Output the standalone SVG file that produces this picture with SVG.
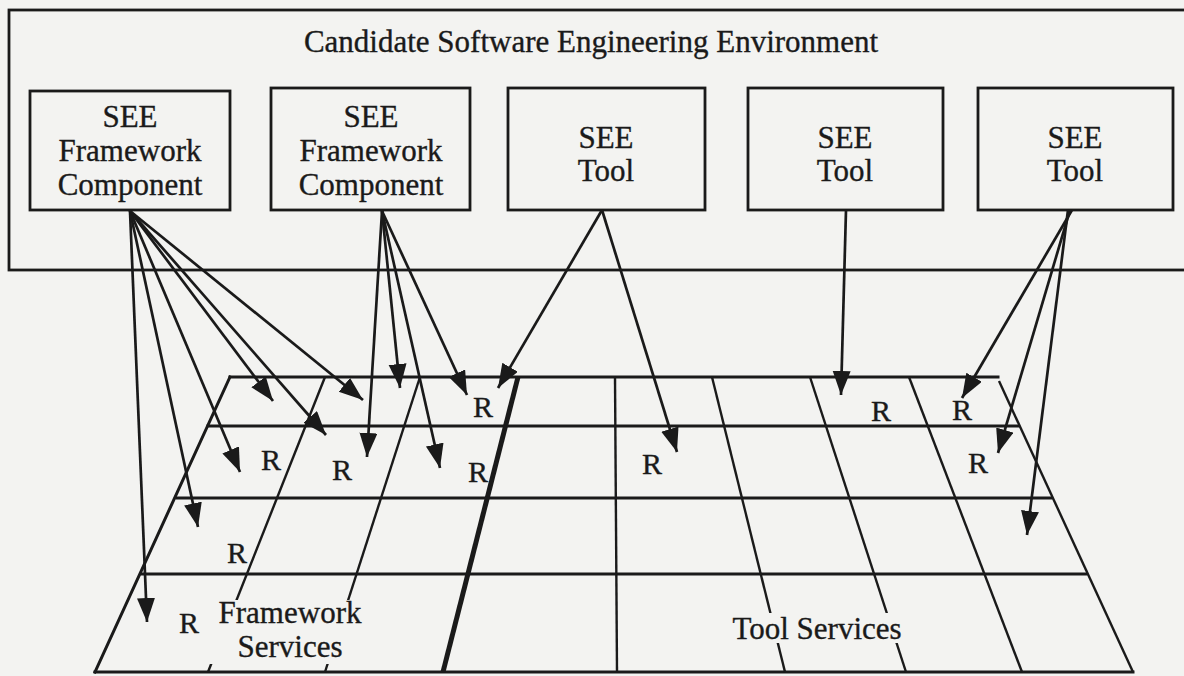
<svg xmlns="http://www.w3.org/2000/svg" width="1184" height="676" viewBox="0 0 1184 676">
<defs>
<style>
.bg{fill:#f3f3f1}
.box{fill:#f3f3f1;stroke:#1a1a1a;stroke-width:2.8}
.t{font-family:"Liberation Serif","Times New Roman",serif;font-size:31px;fill:#1a1a1a;stroke:#1a1a1a;stroke-width:0.35;text-anchor:middle}
.r{font-family:"Liberation Serif","Times New Roman",serif;font-size:30px;fill:#1a1a1a;stroke:#1a1a1a;stroke-width:0.35;text-anchor:middle}
.g{stroke:#1a1a1a;stroke-width:3;fill:none;stroke-linecap:square}
.thin{stroke:#1a1a1a;stroke-width:2.4;fill:none}
.thick{stroke:#1a1a1a;stroke-width:5;fill:none}
.c{stroke:#1a1a1a;stroke-width:2.7;fill:none;marker-end:url(#ah)}
</style>
<marker id="ah" markerUnits="userSpaceOnUse" markerWidth="26" markerHeight="20" refX="24" refY="9" orient="auto">
<path d="M0,0 L24,9 L0,18 z" fill="#1a1a1a"/>
</marker>
</defs>
<rect class="bg" x="0" y="0" width="1184" height="676"/>

<g id="environment">
<rect class="box" x="9" y="10" width="1190" height="260"/>
<text class="t" x="591" y="52">Candidate Software Engineering Environment</text>
</g>

<g id="fw-component-1">
<rect class="box" x="30" y="91" width="200" height="119"/>
<text class="t" x="130" y="127">SEE</text>
<text class="t" x="130" y="161">Framework</text>
<text class="t" x="130" y="195">Component</text>
</g>
<g id="fw-component-2">
<rect class="box" x="271" y="88" width="199" height="122"/>
<text class="t" x="371" y="127">SEE</text>
<text class="t" x="371" y="161">Framework</text>
<text class="t" x="371" y="195">Component</text>
</g>
<g id="tool-1">
<rect class="box" x="508" y="88" width="197" height="122"/>
<text class="t" x="606" y="148">SEE</text>
<text class="t" x="606" y="181">Tool</text>
</g>
<g id="tool-2">
<rect class="box" x="748" y="88" width="195" height="122"/>
<text class="t" x="845" y="148">SEE</text>
<text class="t" x="845" y="181">Tool</text>
</g>
<g id="tool-3">
<rect class="box" x="978" y="88" width="195" height="122"/>
<text class="t" x="1075" y="148">SEE</text>
<text class="t" x="1075" y="181">Tool</text>
</g>

<g id="services-grid">
<line class="g" x1="230" y1="377" x2="998" y2="377"/>
<line class="g" x1="208" y1="426" x2="1018" y2="426"/>
<line class="g" x1="177" y1="498" x2="1051" y2="498"/>
<line class="g" x1="142" y1="574" x2="1086" y2="574"/>
<line class="g" x1="95" y1="672" x2="1133" y2="672"/>
<line class="g" x1="230" y1="377" x2="95" y2="672"/>
<line class="thin" x1="999" y1="381" x2="1133" y2="672"/>
<line class="thin" x1="325" y1="377" x2="208" y2="672"/>
<line class="thin" x1="420" y1="377" x2="325" y2="672"/>
<line class="thick" x1="518" y1="377" x2="443" y2="672"/>
<line class="thin" x1="615" y1="377" x2="617" y2="672"/>
<line class="thin" x1="712" y1="377" x2="785" y2="672"/>
<line class="thin" x1="810" y1="377" x2="906" y2="672"/>
<line class="thin" x1="909" y1="377" x2="1022" y2="672"/>
</g>

<g id="framework-services">
<rect class="bg" x="206" y="600" width="160" height="64"/>
<text class="t" x="290" y="623">Framework</text>
<text class="t" x="290" y="657">Services</text>
</g>
<g id="tool-services">
<rect class="bg" x="728" y="613" width="180" height="30"/>
<text class="t" x="817" y="639">Tool Services</text>
</g>

<g id="connectors">
<line class="c" x1="130" y1="211" x2="147" y2="622"/>
<line class="c" x1="130" y1="211" x2="198" y2="527"/>
<line class="c" x1="130" y1="211" x2="240" y2="472"/>
<line class="c" x1="130" y1="211" x2="273" y2="401"/>
<line class="c" x1="130" y1="211" x2="326" y2="435"/>
<line class="c" x1="130" y1="211" x2="363" y2="400"/>
<line class="c" x1="382" y1="211" x2="367" y2="457"/>
<line class="c" x1="382" y1="211" x2="400" y2="388"/>
<line class="c" x1="382" y1="211" x2="440" y2="468"/>
<line class="c" x1="382" y1="211" x2="467" y2="395"/>
<line class="c" x1="602" y1="210" x2="498" y2="388"/>
<line class="c" x1="602" y1="210" x2="677" y2="452"/>
<line class="c" x1="846" y1="210" x2="841" y2="395"/>
<line class="c" x1="1072" y1="210" x2="962" y2="398"/>
<line class="c" x1="1070" y1="210" x2="998" y2="453"/>
<line class="c" x1="1068" y1="210" x2="1027" y2="535"/>
</g>

<g id="r-labels">
<text class="r" x="271" y="470">R</text>
<text class="r" x="342" y="480">R</text>
<text class="r" x="478" y="482">R</text>
<text class="r" x="483" y="417">R</text>
<text class="r" x="237" y="563">R</text>
<text class="r" x="189" y="633">R</text>
<text class="r" x="652" y="474">R</text>
<text class="r" x="881" y="421">R</text>
<text class="r" x="962" y="420">R</text>
<text class="r" x="978" y="473">R</text>
</g>
</svg>
